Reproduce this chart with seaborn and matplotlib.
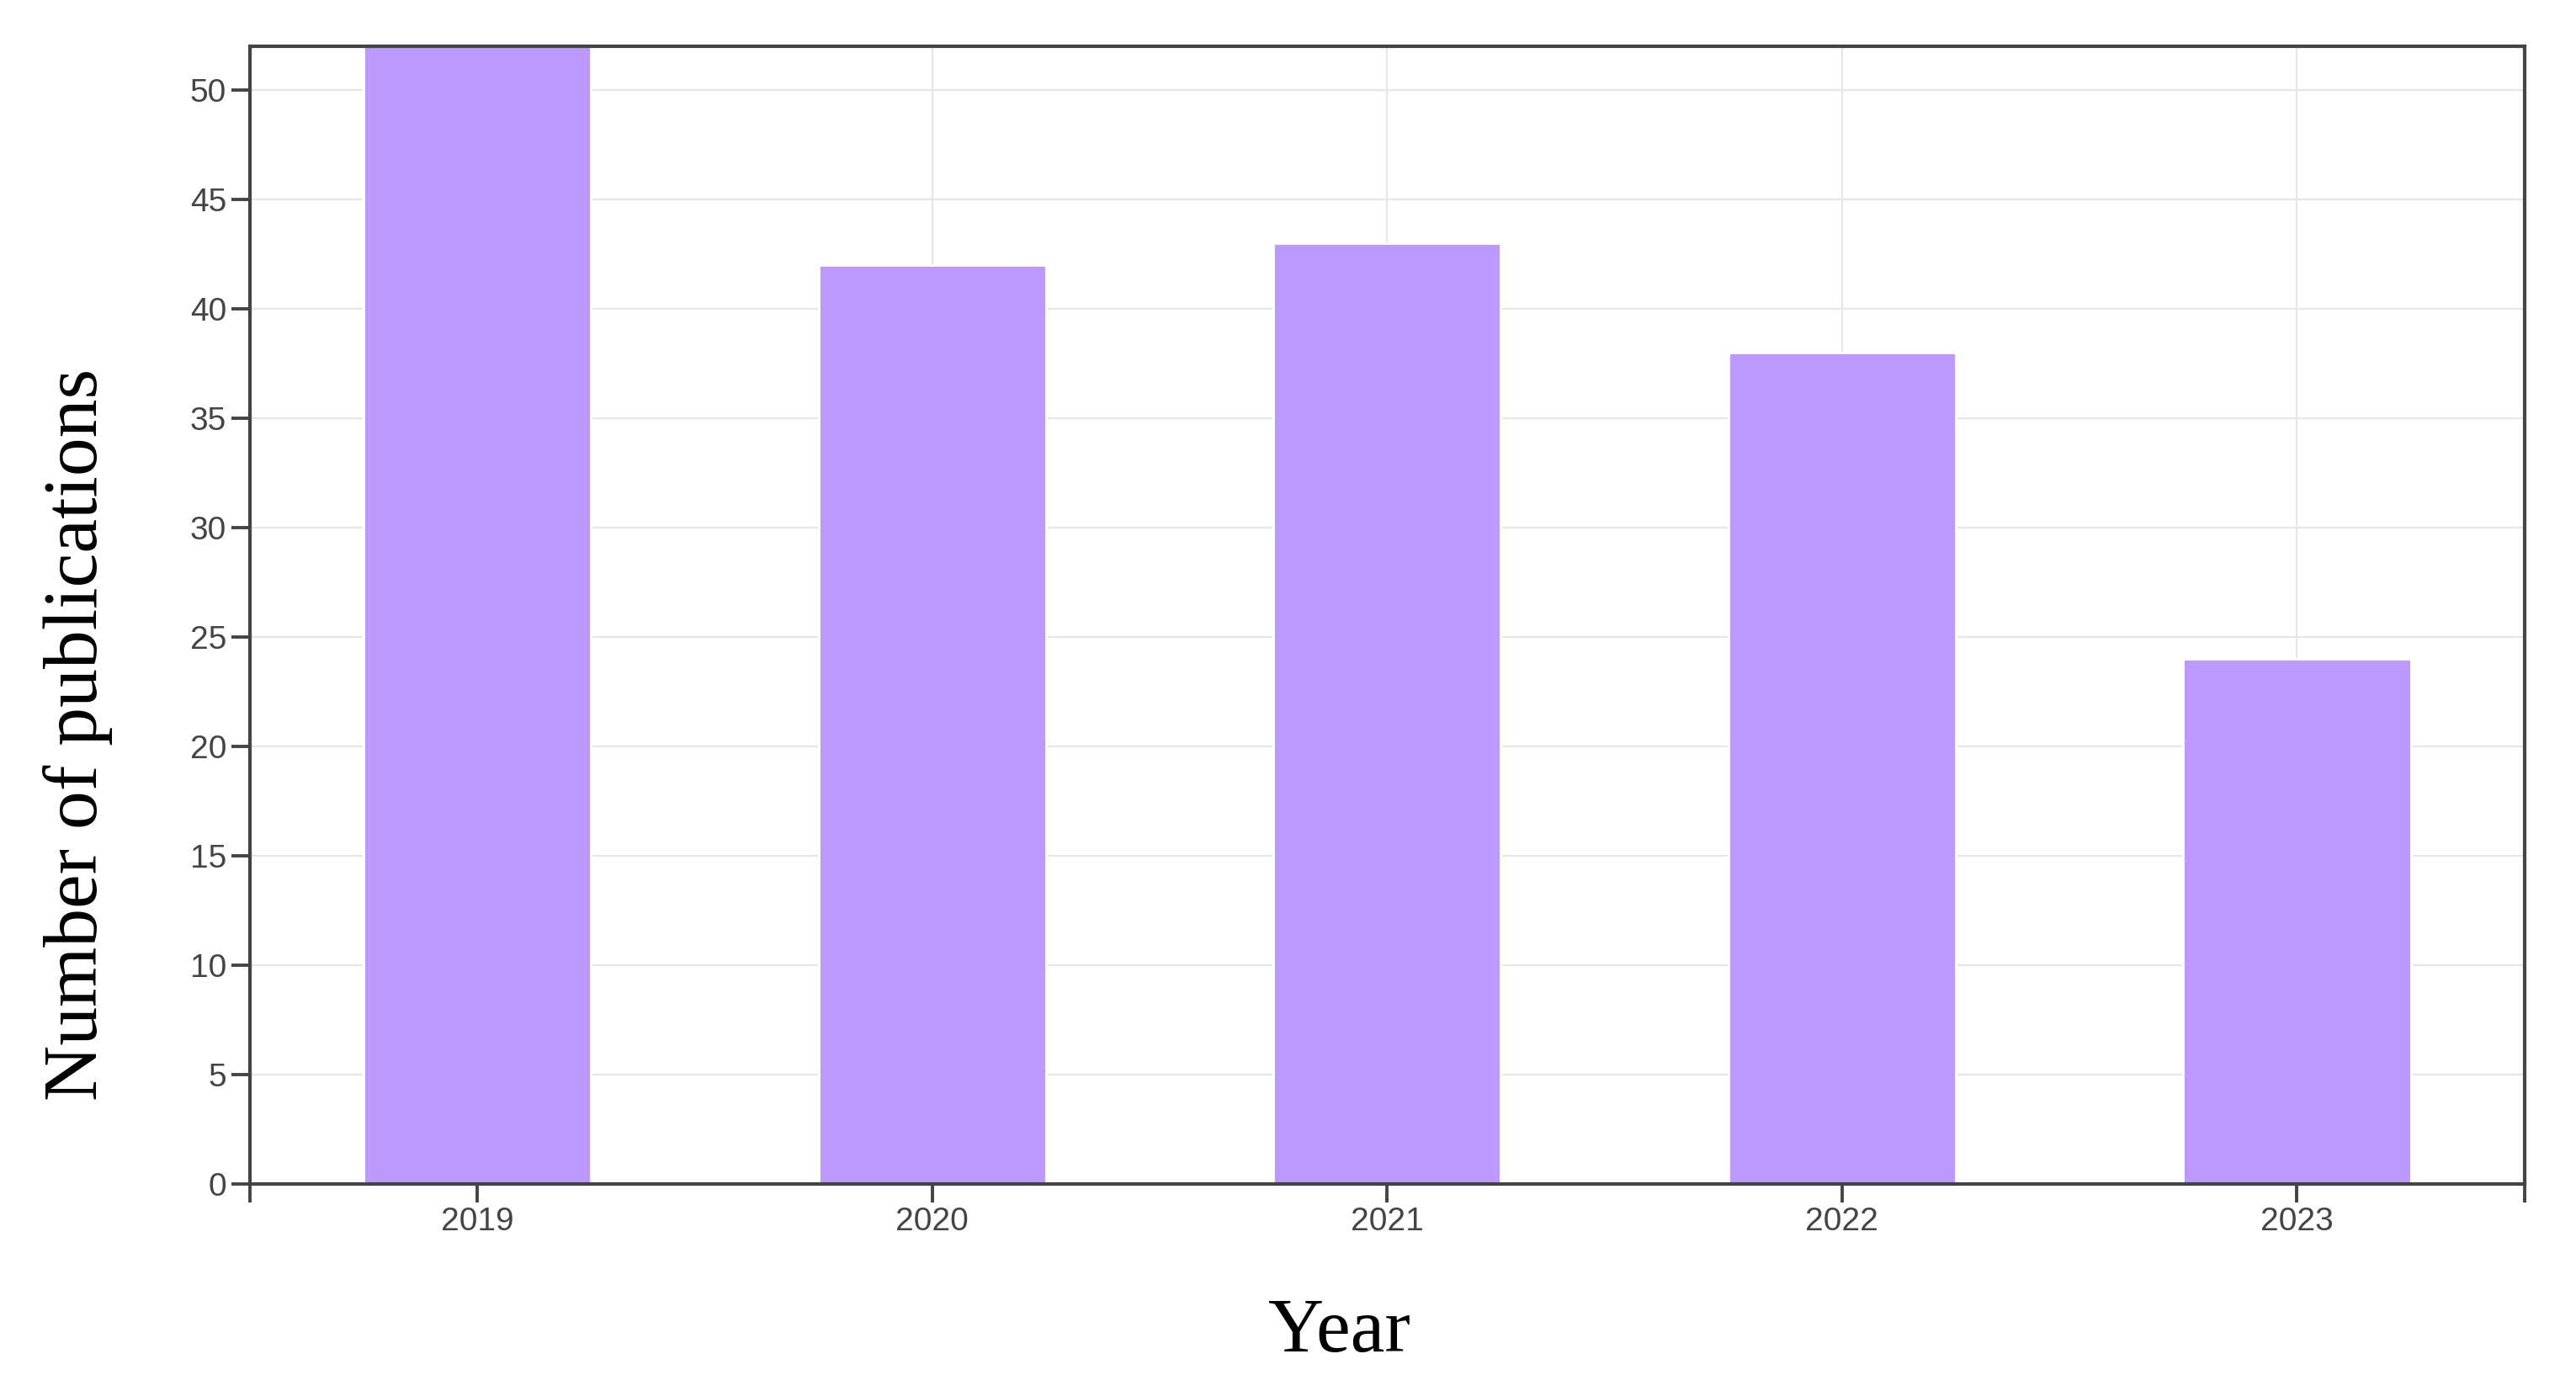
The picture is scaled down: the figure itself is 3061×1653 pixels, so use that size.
import pandas as pd
import matplotlib
matplotlib.use("Agg")
import matplotlib.pyplot as plt
import seaborn as sns

# 数据
years = ["2019", "2020", "2021", "2022", "2023"]
publications = [55, 42, 43, 38, 24]

df = pd.DataFrame({"Year": years, "Publications": publications})

sns.set_theme(style="white")
plt.rcParams['font.family'] = ['Liberation Sans Narrow', 'Liberation Sans', 'DejaVu Sans']

fig = plt.figure(figsize=(15.305, 8.265), dpi=200)
ax = fig.add_axes([0.097, 0.149, 0.883, 0.818])

sns.barplot(data=df, x="Year", y="Publications", color="#bb99ff",
            saturation=1, width=0.5, ax=ax, zorder=2)

# 网格放在柱子后面
ax.set_axisbelow(True)
ax.grid(True, which='major', color='#e6e6e6', linewidth=0.8)

ax.set_ylim(0, 52)
ax.set_xlim(-0.5, 4.5)
ax.set_yticks(range(0, 51, 5))

for s in ax.spines.values():
    s.set_color('#444444')
    s.set_linewidth(1.5)
    s.set_visible(True)
    s.set_zorder(3)

ax.tick_params(axis='both', which='both', direction='out', length=8, width=1.4,
               color='#444444', labelsize=14, labelcolor='#444444',
               left=True, bottom=True, pad=2)
ax.set_xticks([-0.5, 4.5], minor=True)

ax.set_xlabel('Year', fontsize=33, family='Liberation Serif', color='black')
ax.set_ylabel('Number of publications', fontsize=33, family='Liberation Serif', color='black')
ax.xaxis.set_label_coords(0.479, -0.131)
ax.yaxis.set_label_coords(-0.0758, 0.395)
ax.xaxis.label.set_va('center')
ax.yaxis.label.set_va('center')

fig.savefig("out.png", dpi=200)
plt.close(fig)
